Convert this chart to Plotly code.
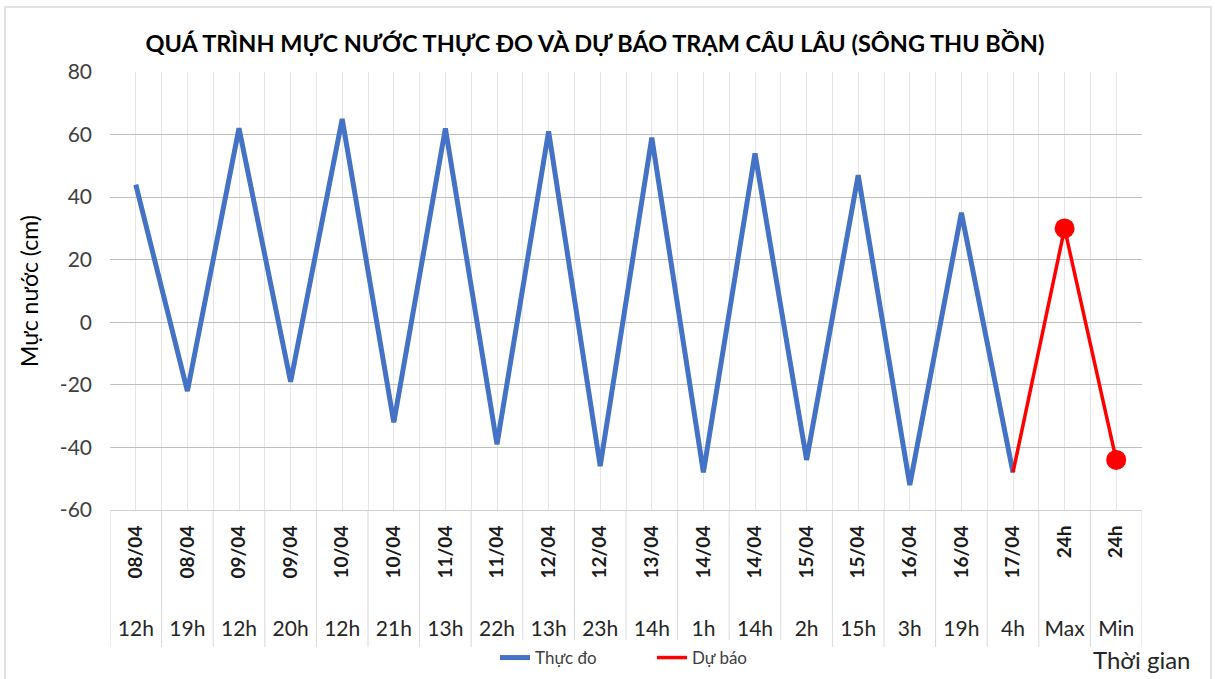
import plotly.graph_objects as go

dates = ["08/04", "08/04", "09/04", "09/04", "10/04", "10/04", "11/04", "11/04",
         "12/04", "12/04", "13/04", "14/04", "14/04", "15/04", "15/04", "16/04",
         "16/04", "17/04", "24h", "24h"]
hours = ["12h", "19h", "12h", "20h", "12h", "21h", "13h", "22h", "13h", "23h",
         "14h", "1h", "14h", "2h", "15h", "3h", "19h", "4h", "Max", "Min"]
observed = [44, -22, 62, -19, 65, -32, 62, -39, 61, -46, 59, -48, 54, -44, 47, -52, 35, -48]
forecast = [None] * 17 + [-48, 30, -44]
y_ticks = [80, 60, 40, 20, 0, -20, -40, -60]

pos = list(range(len(dates)))
FONT = "Lato"
W, H = 1215, 679
ml, mr, mt, mb = 110, 73, 72, 29
plot_w = W - ml - mr
plot_h = H - mt - mb
y_bottom_px = 510
dom0 = (H - mb - y_bottom_px) / plot_h


def px_y(py):
    return (H - mb - py) / plot_h


def px_x(px):
    return (px - ml) / plot_w


fig = go.Figure()
fig.add_trace(go.Scatter(
    x=pos[:len(observed)], y=observed, mode="lines", name="Thực đo",
    line=dict(color="#4472C4", width=5)))
fig.add_trace(go.Scatter(
    x=pos, y=forecast, mode="lines+markers", name="Dự báo",
    line=dict(color="#FF0000", width=3.5),
    marker=dict(color="#FF0000", size=[0] * 18 + [20, 20], opacity=1,
                line=dict(width=0))))
fig.add_trace(go.Scatter(x=pos, y=[None] * len(pos), xaxis="x2", showlegend=False,
                         hoverinfo="skip"))

shapes = []
for i in range(len(pos) + 1):
    shapes.append(dict(type="line", xref="x", yref="paper", x0=i - 0.5, x1=i - 0.5,
                       y0=dom0, y1=px_y(647),
                       line=dict(color="#D9D9D9", width=1), layer="below"))
# outer border
shapes.append(dict(type="rect", xref="paper", yref="paper",
                   x0=px_x(5), x1=px_x(1211), y0=px_y(682), y1=px_y(7),
                   line=dict(color="#D9D9D9", width=1.5)))

fig.update_layout(
    width=W, height=H, autosize=False,
    margin=dict(l=ml, r=mr, t=mt, b=mb, autoexpand=False),
    paper_bgcolor="white", plot_bgcolor="white",
    font=dict(family=FONT, color="#404040"),
    title=dict(text="<b>QUÁ TRÌNH MỰC NƯỚC THỰC ĐO VÀ DỰ BÁO TRẠM CÂU LÂU (SÔNG THU BỒN)</b>",
               x=595 / W, xref="container", xanchor="center",
               y=1 - 44 / H, yref="container", yanchor="middle",
               font=dict(size=23.5, color="#000000", family=FONT)),
    xaxis=dict(range=[-0.5, len(pos) - 0.5], tickvals=pos,
               ticktext=["<b>%s</b>" % d for d in dates],
               tickangle=-90, tickfont=dict(size=19, color="#1a1a1a"),
               ticklabelstandoff=7,
               showgrid=True, gridcolor="#E6E6E6", gridwidth=1,
               minor=dict(tickvals=[i - 0.5 for i in range(len(pos) + 1)],
                          showgrid=True, gridcolor="#E6E6E6", gridwidth=1),
               showline=True, linecolor="#CFCFCF", ticks="", zeroline=False,
               anchor="y", automargin=False),
    xaxis2=dict(range=[-0.5, len(pos) - 0.5], tickvals=pos, ticktext=hours,
                overlaying="x", anchor="free", side="bottom",
                position=px_y(614), tickangle=0,
                tickfont=dict(size=21, color="#262626"), automargin=False,
                showgrid=False, showline=False, ticks="", zeroline=False),
    yaxis=dict(domain=[dom0, 1], range=[-60, 80],
               tickvals=y_ticks, ticktext=[str(v) for v in y_ticks],
               tickfont=dict(size=21, color="#404040"), automargin=False,
               ticklabelstandoff=17,
               showgrid=True, gridcolor="#BFBFBF", gridwidth=1,
               zeroline=False, showline=False, ticks="",
               title=dict(text="Mực nước (cm)", font=dict(size=23, color="#000000"),
                          standoff=14)),
    legend=dict(orientation="h", x=px_x(495), xanchor="left",
                y=px_y(658), yanchor="middle", entrywidth=112,
                font=dict(size=17, color="#404040")),
    shapes=shapes,
    annotations=[dict(text="Thời gian", xref="paper", yref="paper",
                      x=px_x(1193), xanchor="right",
                      y=px_y(659), yanchor="middle",
                      showarrow=False, font=dict(size=24, color="#262626"))],
    showlegend=True,
)

fig.write_html("out.html", config={"displayModeBar": False},
               post_script="document.body.style.margin='0';")
